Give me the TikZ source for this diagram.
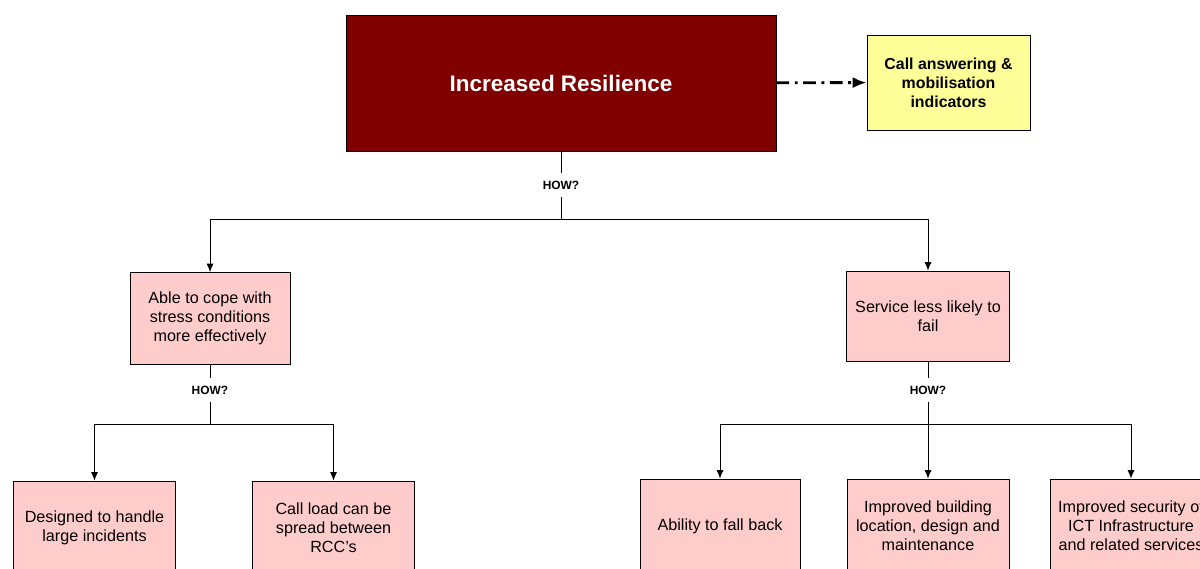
\documentclass[tikz,border=0pt]{standalone}
\usepackage{fontspec}
\setmainfont{Liberation Sans}
\usetikzlibrary{arrows.meta}

\definecolor{darkred}{HTML}{800000}
\definecolor{pinkbox}{HTML}{FFCCCC}
\definecolor{yellowbox}{HTML}{FFFF99}

\begin{document}
\begin{tikzpicture}[x=0.025cm,y=-0.025cm,
        outcome/.style={draw=black,line width=0.6pt,fill=darkred,text=white,
            font=\fontsize{16}{19}\selectfont\bfseries,
            minimum width=10.75cm,minimum height=3.4cm},
        indicator/.style={draw=black,line width=0.6pt,fill=yellowbox,align=center,
            font=\fontsize{11.3}{13.5}\selectfont\bfseries,
            minimum width=4.075cm,minimum height=2.375cm},
        benefit/.style={draw=black,line width=0.6pt,fill=pinkbox,align=center,
            font=\fontsize{11.5}{13.6}\selectfont,
            minimum width=4.05cm,minimum height=2.3cm},
        how/.style={font=\fontsize{8.5}{9}\selectfont\bfseries,inner sep=5pt},
        link/.style={line width=0.6pt},
        arr/.style={line width=0.6pt,-{Latex[length=6pt,width=5pt]}}]

    \useasboundingbox (0,0) rectangle (1200,569);
    \clip (0,0) rectangle (1200,569);

    % Level 0
    \node[outcome] (top) at (561,83) {Increased Resilience};
    \node[indicator] (ind) at (948.5,82.5) {Call answering \&\\mobilisation\\indicators};
    \node[how] (how0) at (561,185) {HOW?};
    \coordinate (j0) at (561,219);

    % Level 1
    \node[benefit,minimum width=4cm] (cope) at (210,318.5) {Able to cope with\\stress conditions\\more effectively};
    \node[benefit,minimum width=4.075cm,minimum height=2.25cm] (fail) at (928,316) {Service less likely to\\fail};
    \node[how] (how1) at (210,390) {HOW?};
    \node[how] (how2) at (928,390) {HOW?};
    \coordinate (j1) at (210,424);
    \coordinate (j2) at (928,424);

    % Level 2
    \node[benefit,minimum height=2.35cm] (large) at (94.5,528) {Designed to handle\\large incidents};
    \node[benefit,minimum height=2.35cm] (spread) at (333.5,528) {Call load can be\\spread between\\RCC's};
    \node[benefit,minimum width=4cm,minimum height=2.35cm] (fallback) at (720,526) {Ability to fall back};
    \node[benefit,minimum height=2.35cm] (building) at (928,526) {Improved building\\location, design and\\maintenance};
    \node[benefit,minimum height=2.35cm] (ict) at (1131,526) {Improved security of\\ICT Infrastructure\\and related services};

    % Edges
    \draw[line width=2pt,dash pattern=on 9pt off 4pt on 2pt off 4pt,
        -{Latex[length=10pt,width=8pt]}] (top) -- (ind);
    \draw[link] (top) -- (how0);
    \draw[link] (how0) -- (j0);
    \draw[arr] (j0) -| (cope);
    \draw[arr] (j0) -| (fail);
    \draw[link] (cope) -- (how1);
    \draw[link] (how1) -- (j1);
    \draw[arr] (j1) -| (large);
    \draw[arr] (j1) -| (spread);
    \draw[link] (fail) -- (how2);
    \draw[link] (how2) -- (j2);
    \draw[arr] (j2) -| (fallback);
    \draw[arr] (j2) -- (building);
    \draw[arr] (j2) -| (ict);
\end{tikzpicture}
\end{document}
